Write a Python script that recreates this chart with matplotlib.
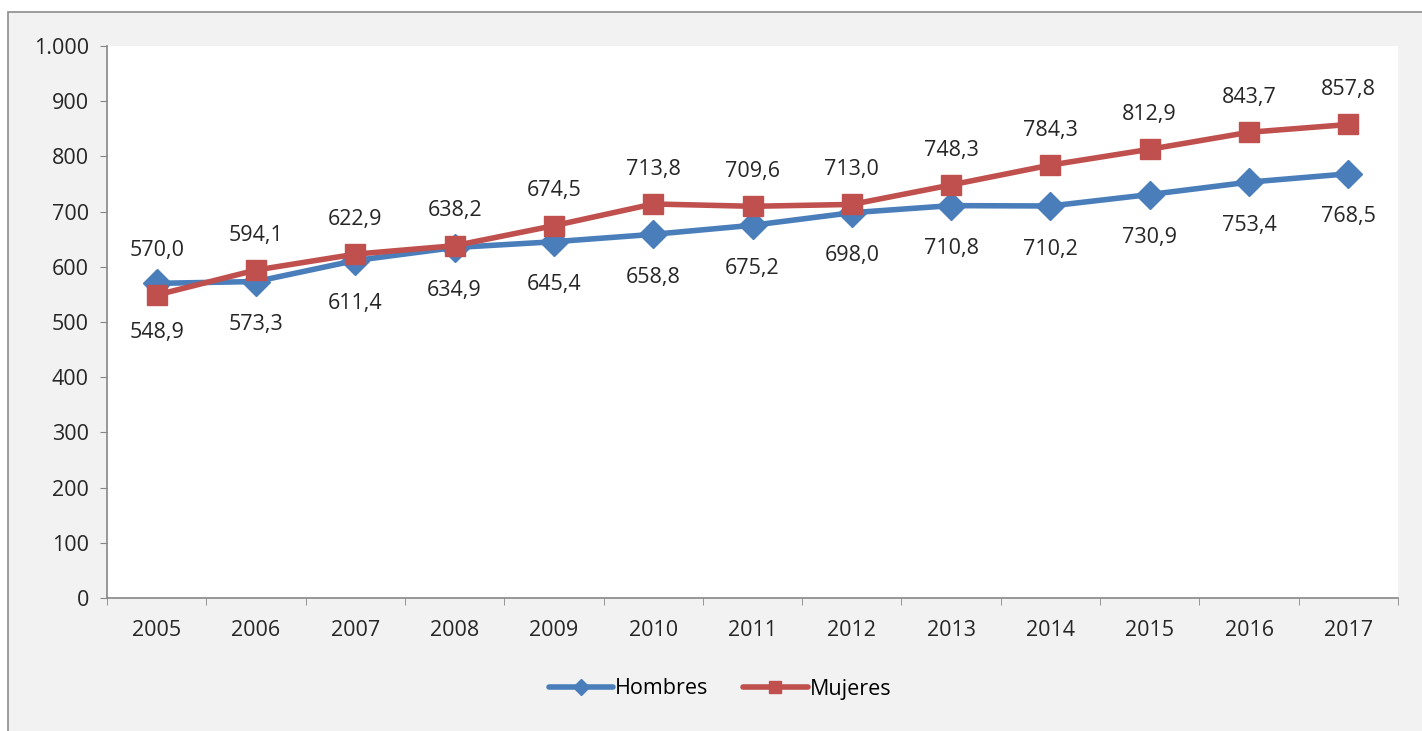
import numpy as np
import matplotlib.pyplot as plt
from matplotlib.patches import Rectangle
from matplotlib.ticker import FuncFormatter

plt.rcParams['font.family'] = ['Open Sans', 'DejaVu Sans']

# datos
years = [str(y) for y in range(2005, 2018)]
hombres = [570.0, 573.3, 611.4, 634.9, 645.4, 658.8, 675.2, 698.0, 710.8, 710.2, 730.9, 753.4, 768.5]
mujeres = [548.9, 594.1, 622.9, 638.2, 674.5, 713.8, 709.6, 713.0, 748.3, 784.3, 812.9, 843.7, 857.8]

blue = '#4a7ebb'
red = '#c0504d'
grey = '#868686'
fs = 15.5

fig = plt.figure(figsize=(14.22, 7.31), dpi=100)
fig.patch.set_facecolor('white')
# marco del grafico (recortado a la derecha y abajo)
fig.patches.append(Rectangle((8 / 1422, -0.05), 1.1, 0.05 + (731 - 12) / 731,
                             transform=fig.transFigure, facecolor='#f2f2f2',
                             edgecolor='#8c8c8c', linewidth=1.2, zorder=-10))

ax = fig.add_axes([107 / 1422, 133 / 731, (1398 - 107) / 1422, (598 - 46) / 731])
ax.set_facecolor('white')

x = np.arange(len(years))
ax.plot(x, hombres, color=blue, lw=4, marker='D', ms=14, label='Hombres',
        solid_capstyle='round', zorder=3)
ax.plot(x, mujeres, color=red, lw=4, marker='s', ms=15, label='Mujeres',
        solid_capstyle='round', zorder=4)

def fmt(v):
    return f'{v:.1f}'.replace('.', ',')

for i in range(len(years)):
    h, m = hombres[i], mujeres[i]
    # el mayor va arriba, el menor abajo
    h_up = h > m
    ax.annotate(fmt(h), (x[i], h), xytext=(0, 24 if h_up else -31),
                textcoords='offset points', ha='center', va='center',
                fontsize=fs, color='#262626')
    ax.annotate(fmt(m), (x[i], m), xytext=(0, 25 if not h_up else -27),
                textcoords='offset points', ha='center', va='center',
                fontsize=fs, color='#262626')

ax.set_xlim(-0.5, len(years) - 0.5)
ax.set_ylim(0, 1000)
ax.set_yticks(np.arange(0, 1001, 100))
ax.yaxis.set_major_formatter(FuncFormatter(lambda v, p: f'{int(v):,}'.replace(',', '.')))
ax.set_xticks(x)
ax.set_xticklabels(years)
ax.set_xticks(np.arange(-0.5, len(years), 1), minor=True)
ax.tick_params(axis='x', which='major', length=0, pad=16, labelsize=fs, labelcolor='#262626')
ax.tick_params(axis='x', which='minor', length=5, color=grey, direction='out')
ax.tick_params(axis='y', length=5, color=grey, pad=8, labelsize=fs, labelcolor='#262626')

for s in ['top', 'right']:
    ax.spines[s].set_visible(False)
for s in ['left', 'bottom']:
    ax.spines[s].set_color(grey)
    ax.spines[s].set_linewidth(1.2)

fig.legend(loc='center', bbox_to_anchor=(720 / 1422, 1 - 689 / 731), ncol=2,
           frameon=False, fontsize=fs, handlelength=3.0, handletextpad=0.1,
           columnspacing=1.6, markerscale=0.6)

fig.savefig('out.png', dpi=100, facecolor=fig.get_facecolor())
